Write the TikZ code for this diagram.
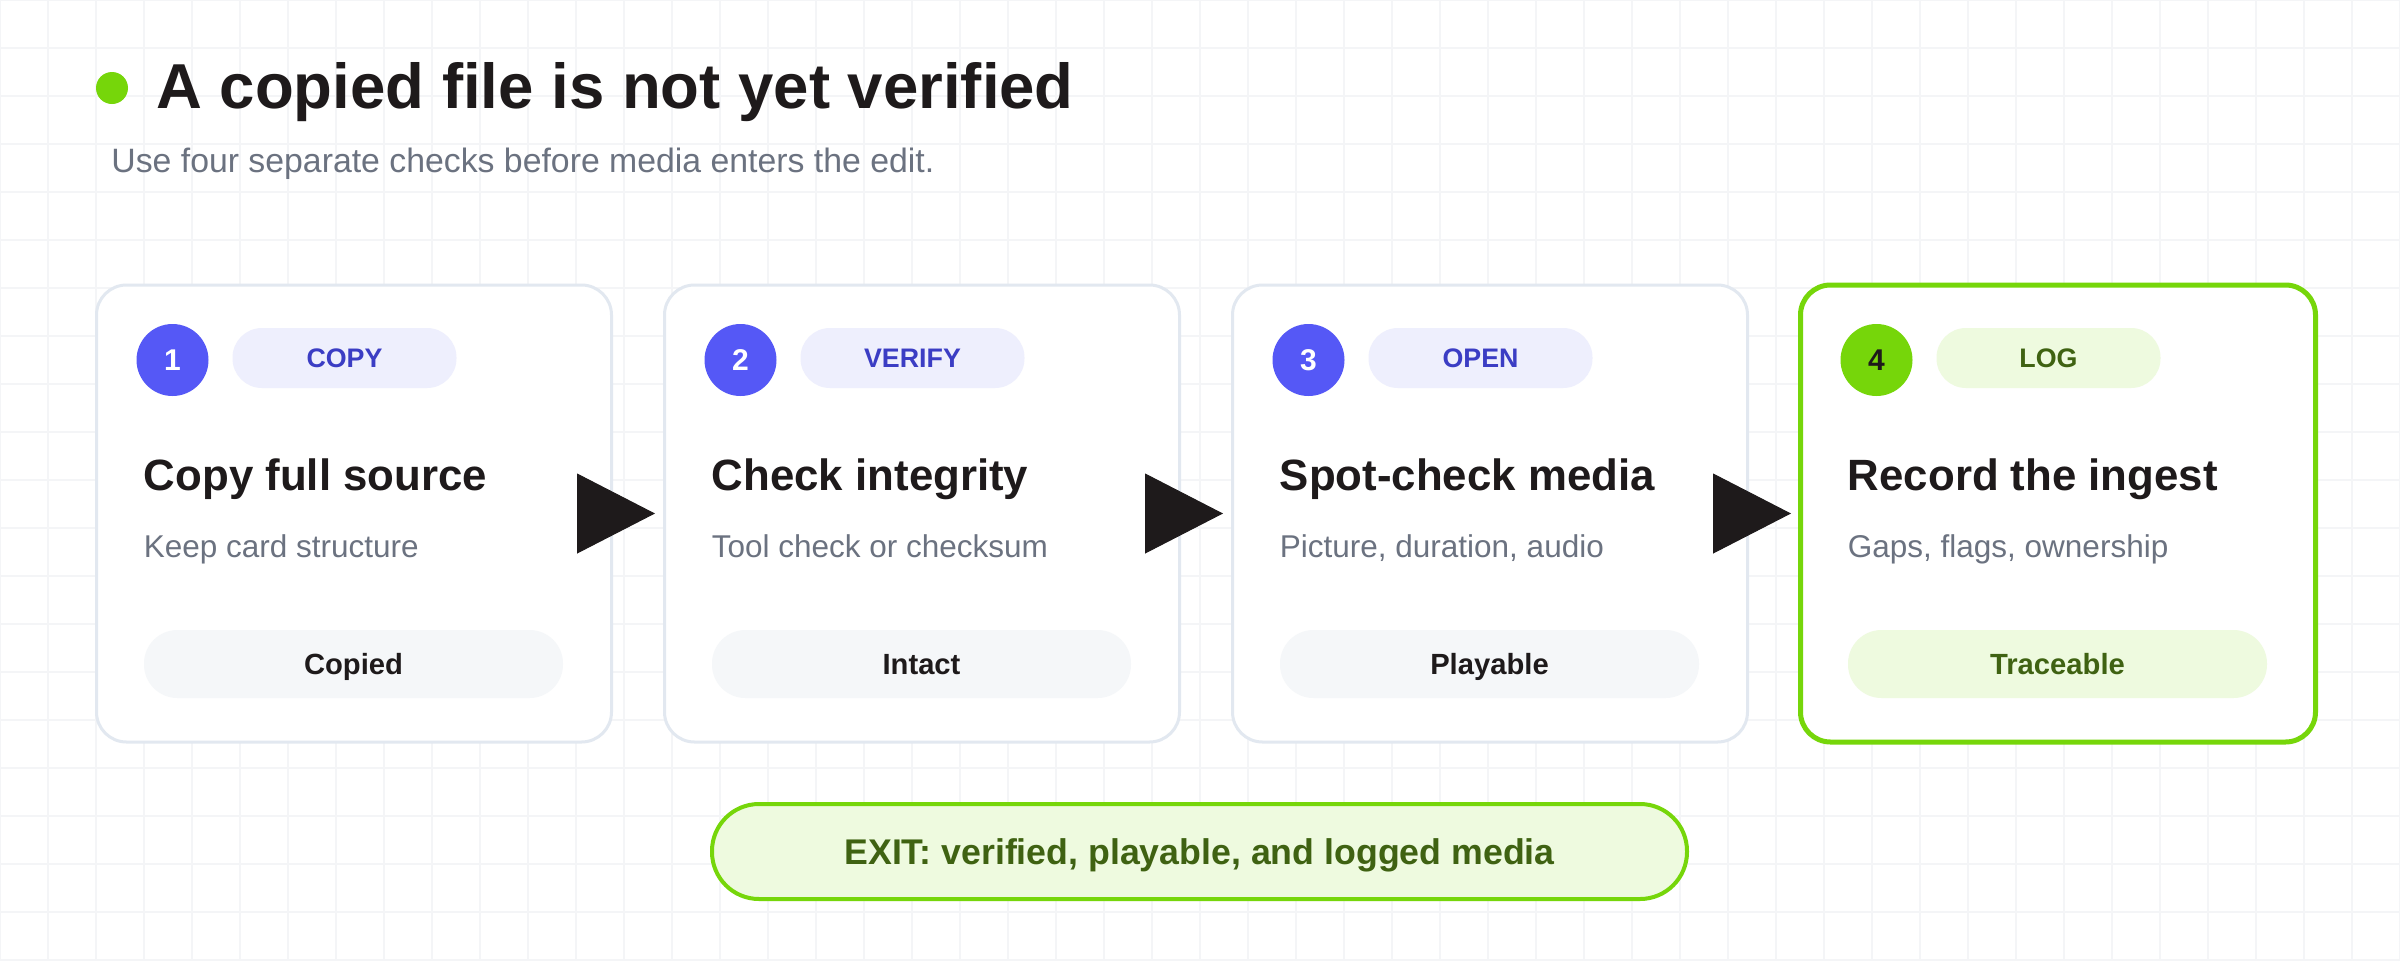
\documentclass[tikz,border=0pt]{standalone}
\usepackage{fontspec}
\setmainfont{Liberation Sans}
\usetikzlibrary{arrows.meta,calc}
\newlength\pxu
\setlength\pxu{0.5pt}
\definecolor{ink}{HTML}{1E1A1B}
\definecolor{muted}{HTML}{6B7280}
\definecolor{cardline}{HTML}{E2E8F0}
\definecolor{gridc}{HTML}{F4F5F7}
\definecolor{indigoC}{HTML}{5558F6}
\definecolor{indigoBg}{HTML}{EEEFFD}
\definecolor{indigoTx}{HTML}{3B3DC4}
\definecolor{limeC}{HTML}{76D60A}
\definecolor{limeBg}{HTML}{EEFADF}
\definecolor{limeTx}{HTML}{3F6212}
\definecolor{pillBg}{HTML}{F5F7F9}
\tikzset{
  gridline/.style={draw=gridc, line width=1.5\pxu},
  card/.style={draw=cardline, fill=white, line width=3\pxu, rounded corners=30\pxu,
    minimum width=515\pxu, minimum height=457\pxu, inner sep=0pt, outer sep=0pt},
  cardlast/.style={card, draw=limeC, line width=5\pxu},
  numdot/.style={circle, fill=indigoC, text=white, minimum size=72\pxu, inner sep=0pt,
    font=\bfseries\fontsize{15pt}{15pt}\selectfont, text height=10.7pt, text depth=0pt},
  numdotlast/.style={numdot, fill=limeC, text=ink},
  tagpill/.style={fill=indigoBg, text=indigoTx, rounded corners=29.5\pxu, minimum width=224\pxu,
    minimum height=60\pxu, inner sep=0pt, font=\bfseries\fontsize{13.4pt}{13.4pt}\selectfont,
    text height=9.6pt, text depth=0pt},
  tagpilllast/.style={tagpill, fill=limeBg, text=limeTx},
  cardtitle/.style={anchor=base west, inner sep=0pt, text=ink,
    font=\bfseries\fontsize{21.9pt}{24pt}\selectfont},
  cardsub/.style={anchor=base west, inner sep=0pt, text=muted,
    font=\fontsize{15.75pt}{18pt}\selectfont},
  respill/.style={fill=pillBg, text=ink, rounded corners=33.5\pxu, minimum width=419\pxu,
    minimum height=68\pxu, inner sep=0pt, font=\bfseries\fontsize{14.6pt}{14.6pt}\selectfont,
    text height=10.45pt, text depth=0pt},
  respilllast/.style={respill, fill=limeBg, text=limeTx},
  flow/.style={draw=ink, fill=ink, line width=0.5pt, shorten >=4.75pt,
    -{Triangle[length=39pt,width=40pt]}},
  exitpill/.style={draw=limeC, fill=limeBg, text=limeTx, line width=4\pxu, rounded corners=47\pxu,
    minimum width=975\pxu, minimum height=95\pxu, inner sep=0pt,
    font=\bfseries\fontsize{17.85pt}{17.85pt}\selectfont, text height=12.8pt, text depth=0pt},
  headdot/.style={circle, fill=limeC, minimum size=32\pxu, inner sep=0pt},
  headline/.style={anchor=base west, inner sep=0pt, text=ink,
    font=\bfseries\fontsize{31.75pt}{36pt}\selectfont},
  subline/.style={anchor=base west, inner sep=0pt, text=muted,
    font=\fontsize{16.9pt}{20pt}\selectfont},
}
\begin{document}
\begin{tikzpicture}[x=0.5pt,y=-0.5pt]
\useasboundingbox (0,0) rectangle (2400,960);
\fill[white] (0,0) rectangle (2400,960);
\foreach \gx in {0,48,...,2400} \draw[gridline] (\gx,0) -- (\gx,960);
\foreach \gy in {0,48,...,960} \draw[gridline] (0,\gy) -- (2400,\gy);

% heading
\node[headdot] (hdot) at (112,88) {};
\node[headline] (head) at (156,108) {A copied file is not yet verified};
\node[subline] (sub) at (111,172) {Use four separate checks before media enters the edit.};

% cards
\node[card] (c1) at (354,513.5) {};
\node[card] (c2) at (922,513.5) {};
\node[card] (c3) at (1490,513.5) {};
\node[cardlast] (c4) at (2058,513.5) {};

% card 1
\node[numdot] (n1) at ($(c1.north west)+(76,75)$) {1};
\node[tagpill] (t1) at ($(c1.north west)+(248,73)$) {COPY};
\node[cardtitle] (h1) at ($(c1.north west)+(47,205)$) {Copy full source};
\node[cardsub] (s1) at ($(c1.north west)+(47,272)$) {Keep card structure};
\node[respill] (r1) at ($(c1.north west)+(257,379)$) {Copied};

% card 2
\node[numdot] (n2) at ($(c2.north west)+(76,75)$) {2};
\node[tagpill] (t2) at ($(c2.north west)+(248,73)$) {VERIFY};
\node[cardtitle] (h2) at ($(c2.north west)+(47,205)$) {Check integrity};
\node[cardsub] (s2) at ($(c2.north west)+(47,272)$) {Tool check or checksum};
\node[respill] (r2) at ($(c2.north west)+(257,379)$) {Intact};

% card 3
\node[numdot] (n3) at ($(c3.north west)+(76,75)$) {3};
\node[tagpill] (t3) at ($(c3.north west)+(248,73)$) {OPEN};
\node[cardtitle] (h3) at ($(c3.north west)+(47,205)$) {Spot-check media};
\node[cardsub] (s3) at ($(c3.north west)+(47,272)$) {Picture, duration, audio};
\node[respill] (r3) at ($(c3.north west)+(257,379)$) {Playable};

% card 4
\node[numdotlast] (n4) at ($(c4.north west)+(76,75)$) {4};
\node[tagpilllast] (t4) at ($(c4.north west)+(248,73)$) {LOG};
\node[cardtitle] (h4) at ($(c4.north west)+(47,205)$) {Record the ingest};
\node[cardsub] (s4) at ($(c4.north west)+(47,272)$) {Gaps, flags, ownership};
\node[respilllast] (r4) at ($(c4.north west)+(257,379)$) {Traceable};

% connectors
\draw[flow] (c1.east) -- (c2.west);
\draw[flow] (c2.east) -- (c3.west);
\draw[flow] (c3.east) -- (c4.west);

% exit
\node[exitpill] (exit) at (1199.5,851.5) {EXIT: verified, playable, and logged media};
\end{tikzpicture}
\end{document}
